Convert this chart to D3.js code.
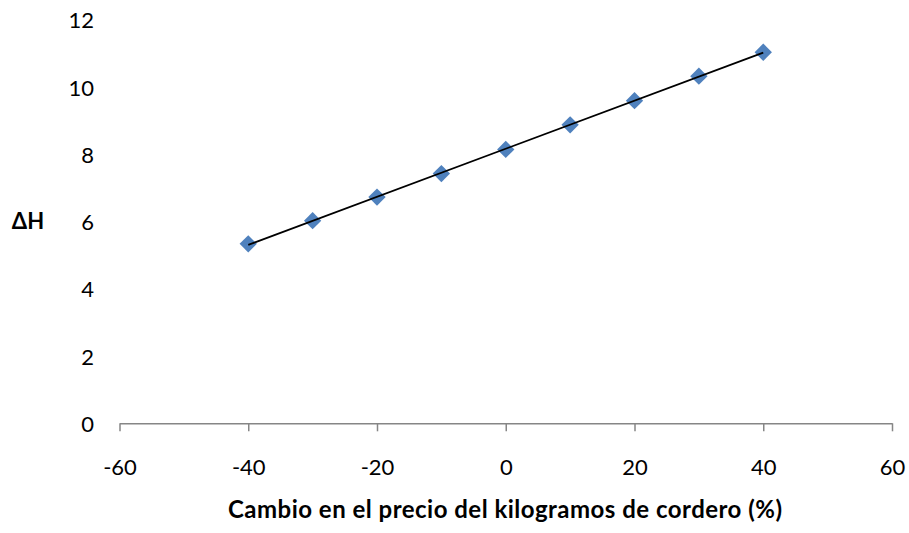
<!DOCTYPE html>
<html><head><meta charset="utf-8">
<script src="https://cdn.jsdelivr.net/npm/d3@7"></script>
<style>body{margin:0;background:#fff}svg{display:block}text{font-family:Lato,"Open Sans",sans-serif;fill:#000}</style>
</head><body><svg width="909" height="533"></svg>
<script>
const xValues = [-40, -30, -20, -10, 0, 10, 20, 30, 40];
const yValues = [5.34, 6.03, 6.73, 7.43, 8.15, 8.88, 9.60, 10.33, 11.04];
const xTicks = [-60, -40, -20, 0, 20, 40, 60];
const yTicks = [0, 2, 4, 6, 8, 10, 12];
const xTitle = "Cambio en el precio del kilogramos de cordero (%)";
const yTitle = "ΔH";

const svg = d3.select("svg");
const x = d3.scaleLinear().domain([-60, 60]).range([119.5, 892]);
const y = d3.scaleLinear().domain([0, 12]).range([423.3, 20]);
const fmt = d => String(d);

// x axis
const xa = svg.append("g").attr("transform", `translate(0,${y(0)})`)
  .call(d3.axisBottom(x).tickValues(xTicks).tickFormat(fmt).tickSize(8).tickSizeOuter(0));
xa.select(".domain").attr("stroke", "#868686").attr("stroke-width", 1.5);
xa.selectAll(".tick line").attr("stroke", "#868686").attr("stroke-width", 1.5);
xa.selectAll(".tick text").attr("font-size", 22).attr("font-family", "Lato,sans-serif").attr("fill", "#000")
  .attr("y", 52).attr("dy", 0);

// y labels (no axis line)
const ya = svg.append("g").attr("transform", `translate(94,0)`)
  .call(d3.axisLeft(y).tickValues(yTicks).tickFormat(fmt).tickSize(0).tickPadding(0));
ya.select(".domain").remove();
ya.selectAll(".tick text").attr("font-size", 22).attr("font-family", "Lato,sans-serif").attr("fill", "#000")
  .attr("dy", "0.36em");

// trendline (least squares fit of the data)
const mx = d3.mean(xValues), my = d3.mean(yValues);
const slope = d3.sum(xValues.map((v, i) => (v - mx) * (yValues[i] - my))) / d3.sum(xValues.map(v => (v - mx) ** 2));
const intercept = my - slope * mx;
const ext = d3.extent(xValues);

// markers
svg.append("g").selectAll("path").data(xValues.map((v, i) => [v, yValues[i]])).join("path")
  .attr("d", d3.symbol(d3.symbolSquare, 150)())
  .attr("transform", d => `translate(${x(d[0])},${y(d[1])}) rotate(45)`)
  .attr("fill", "#4F81BD");

svg.append("path")
  .attr("d", d3.line().x(d => x(d)).y(d => y(intercept + slope * d))(ext))
  .attr("stroke", "#000").attr("stroke-width", 1.8).attr("fill", "none");

svg.append("text").attr("x", 505).attr("y", 518).attr("text-anchor", "middle")
  .attr("font-size", 24).attr("font-weight", "bold")
  .attr("textLength", 554).attr("lengthAdjust", "spacing").text(xTitle);
svg.append("text").attr("x", 28).attr("y", 229).attr("text-anchor", "middle")
  .attr("font-size", 22).attr("font-weight", "bold").text(yTitle);
</script></body></html>
